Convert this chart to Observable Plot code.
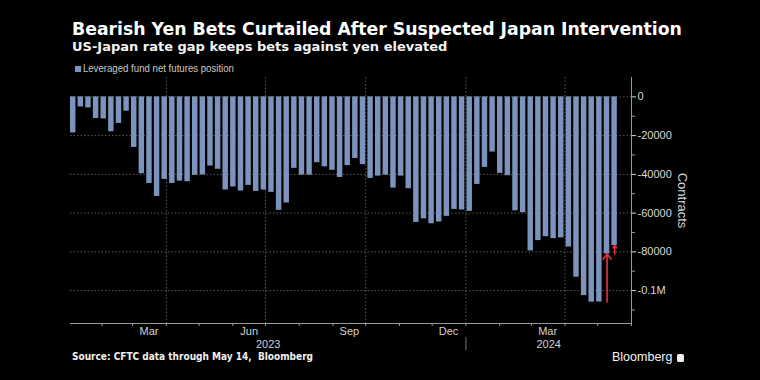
<!DOCTYPE html>
<html>
<head>
<meta charset="utf-8">
<script src="https://cdn.jsdelivr.net/npm/d3@7"></script>
<script src="https://cdn.jsdelivr.net/npm/@observablehq/plot@0.6"></script>
<style>
html,body{margin:0;padding:0;background:#000;}
#wrap{position:relative;width:760px;height:380px;overflow:hidden;background:#000;}
.t{position:absolute;white-space:nowrap;margin:0;z-index:2;}
#title{left:72px;top:21px;font-family:"DejaVu Sans",sans-serif;font-weight:bold;font-size:17.3px;line-height:17px;color:#fff;}
#subtitle{left:72px;top:40px;font-family:"DejaVu Sans",sans-serif;font-weight:bold;font-size:13px;line-height:14px;color:#f2f2f2;}
#legend{left:75px;top:62px;font-family:"Liberation Sans",Arial,sans-serif;font-size:11px;line-height:12px;color:#c8c8c8;transform:scaleX(0.876);transform-origin:0 0;}
#legend .sw{display:inline-block;width:7px;height:6px;background:#7b93bd;margin-right:2px;vertical-align:0px;}
#chart{position:absolute;left:0;top:72px;z-index:1;}
#source{left:72px;top:352px;font-family:"DejaVu Sans Condensed","DejaVu Sans",sans-serif;font-weight:bold;font-size:10px;line-height:10px;color:#f0f0f0;}
#brand{left:612px;top:351px;font-family:"Liberation Sans",Arial,sans-serif;font-size:12.5px;line-height:13px;color:#f4f4f4;}
#brand .ic{display:inline-block;width:7px;height:8px;background:#eee;border-radius:1.5px;margin-left:5px;vertical-align:-1px;}
</style>
</head>
<body>
<div id="wrap">
  <div class="t" id="title">Bearish Yen Bets Curtailed After Suspected Japan Intervention</div>
  <div class="t" id="subtitle">US-Japan rate gap keeps bets against yen elevated</div>
  <div class="t" id="legend"><span class="sw"></span>Leveraged fund net futures position</div>
  <div id="chart"></div>
  <div class="t" id="source">Source: CFTC data through May 14,&nbsp; Bloomberg</div>
  <div class="t" id="brand">Bloomberg<span class="ic"></span></div>
</div>
<script>
// ---- data ----
const firstWeek = "2023-01-03";
const lastWeek = "2024-05-14";
const positions = [
  -18600, -5200, -5700, -11200, -11400, -18000, -13700, -7400, -26100, -39700,
  -44700, -51400, -42600, -44700, -43500, -43800, -40500, -40300, -35700, -37400,
  -48100, -46500, -48600, -45700, -48800, -48100, -49300, -58600, -54800, -36900,
  -40400, -40400, -34000, -36100, -37900, -41600, -35500, -31800, -35000, -42100,
  -40900, -40400, -47100, -40900, -47400, -64800, -63000, -65500, -64600, -61700,
  -58100, -58400, -59100, -45200, -36400, -28500, -39500, -40700, -58800, -59800,
  -79500, -74200, -72200, -73200, -72800, -77500, -93100, -102600, -106000, -105900,
  -81100, -76800
];
const arrowWeeks = ["2024-05-07", "2024-05-14"];
const yTicks = [0, -20000, -40000, -60000, -80000, -100000];
const yTickLabels = ["0", "-20000", "-40000", "-60000", "-80000", "-0.1M"];
const yMinorTicks = [-10000, -30000, -50000, -70000, -90000, -110000];
const monthLabelDates = ["2023-03-16", "2023-06-16", "2023-09-16", "2023-12-16", "2024-03-16"];
const gridDates = ["2023-04-01", "2023-07-01", "2023-10-01", "2024-01-01", "2024-04-01"];
const yearLabels = ["2023", "2024"];
const xDomain = ["2023-01-03", "2024-06-01"];
const yDomain = [-117000, 10000];

// ---- build ----
const P = s => new Date(s + "T00:00:00Z");
const weeks = d3.utcTuesday.range(P(firstWeek), d3.utcDay.offset(P(lastWeek), 1));
const bars = weeks.map((d, i) => ({date: d, end: d3.utcDay.offset(d, 7), value: positions[i]}));
const arrows = arrowWeeks.map(s => {
  const i = weeks.findIndex(w => +w === +P(s));
  return {x: d3.utcHour.offset(weeks[i], 84), y1: positions[i - 1], y2: positions[i]};
});
const xd = xDomain.map(P);
const sep = P("2024-01-01");
const years = [
  {label: yearLabels[0], x: new Date((+xd[0] + +sep) / 2)},
  {label: yearLabels[1], x: new Date((+sep + +xd[1]) / 2)}
];
const monthTicks = d3.utcMonth.range(d3.utcDay.offset(xd[0], 1), d3.utcDay.offset(xd[1], 1));

const gridStyle = {stroke: "#5a5a5a", strokeDasharray: "1.5,2"};
const chart = Plot.plot({
  width: 760,
  height: 290,
  marginLeft: 70,
  marginRight: 129,
  marginTop: 5,
  marginBottom: 39,
  style: {background: "transparent", color: "#d8d8d8", fontFamily: "'Liberation Sans', Arial, sans-serif", fontSize: "11px"},
  x: {type: "utc", domain: xd, axis: null},
  y: {domain: yDomain, axis: null},
  marks: [
    Plot.ruleY(yTicks, gridStyle),
    Plot.ruleX(gridDates.map(P), gridStyle),
    Plot.rectY(bars, {x1: "date", x2: "end", y: "value", fill: "#7b93bd", insetRight: 2.2}),
    Plot.arrow(arrows, {x: "x", y1: "y1", y2: "y2", stroke: "#e8303f", strokeWidth: 1.6, headLength: 6, headAngle: 75, dx: -1}),
    Plot.ruleY([yDomain[0]], {stroke: "#9a9a9a"}),
    Plot.ruleX([xd[1]], {stroke: "#9a9a9a"}),
    Plot.axisY({anchor: "right", ticks: yTicks, tickFormat: d => yTickLabels[yTicks.indexOf(d)], tickSize: 4, tickPadding: 2, color: "#d8d8d8", fontSize: 11, label: null}),
    Plot.axisY({anchor: "right", ticks: yMinorTicks, tickFormat: () => "", tickSize: 3, stroke: "#9a9a9a", label: null}),
    Plot.axisX({ticks: monthTicks, tickFormat: () => "", tickSize: 3, stroke: "#9a9a9a", label: null}),
    Plot.axisX({ticks: monthLabelDates.map(P), tickFormat: d3.utcFormat("%b"), tickSize: 0, tickPadding: 4, color: "#d0d0d0", fontSize: 11, label: null}),
    Plot.axisX({ticks: [sep], tickFormat: () => "", tickSize: 13, dy: 14, stroke: "#777", label: null}),
    Plot.text(years, {x: "x", text: "label", frameAnchor: "bottom", lineAnchor: "top", dy: 17, fill: "#d0d0d0", fontSize: 11}),
    Plot.text(["Contracts"], {frameAnchor: "right", textAnchor: "middle", rotate: 90, dx: 51, fill: "#d8d8d8", fontSize: 13})
  ]
});
document.getElementById("chart").appendChild(chart);
</script>
</body>
</html>
